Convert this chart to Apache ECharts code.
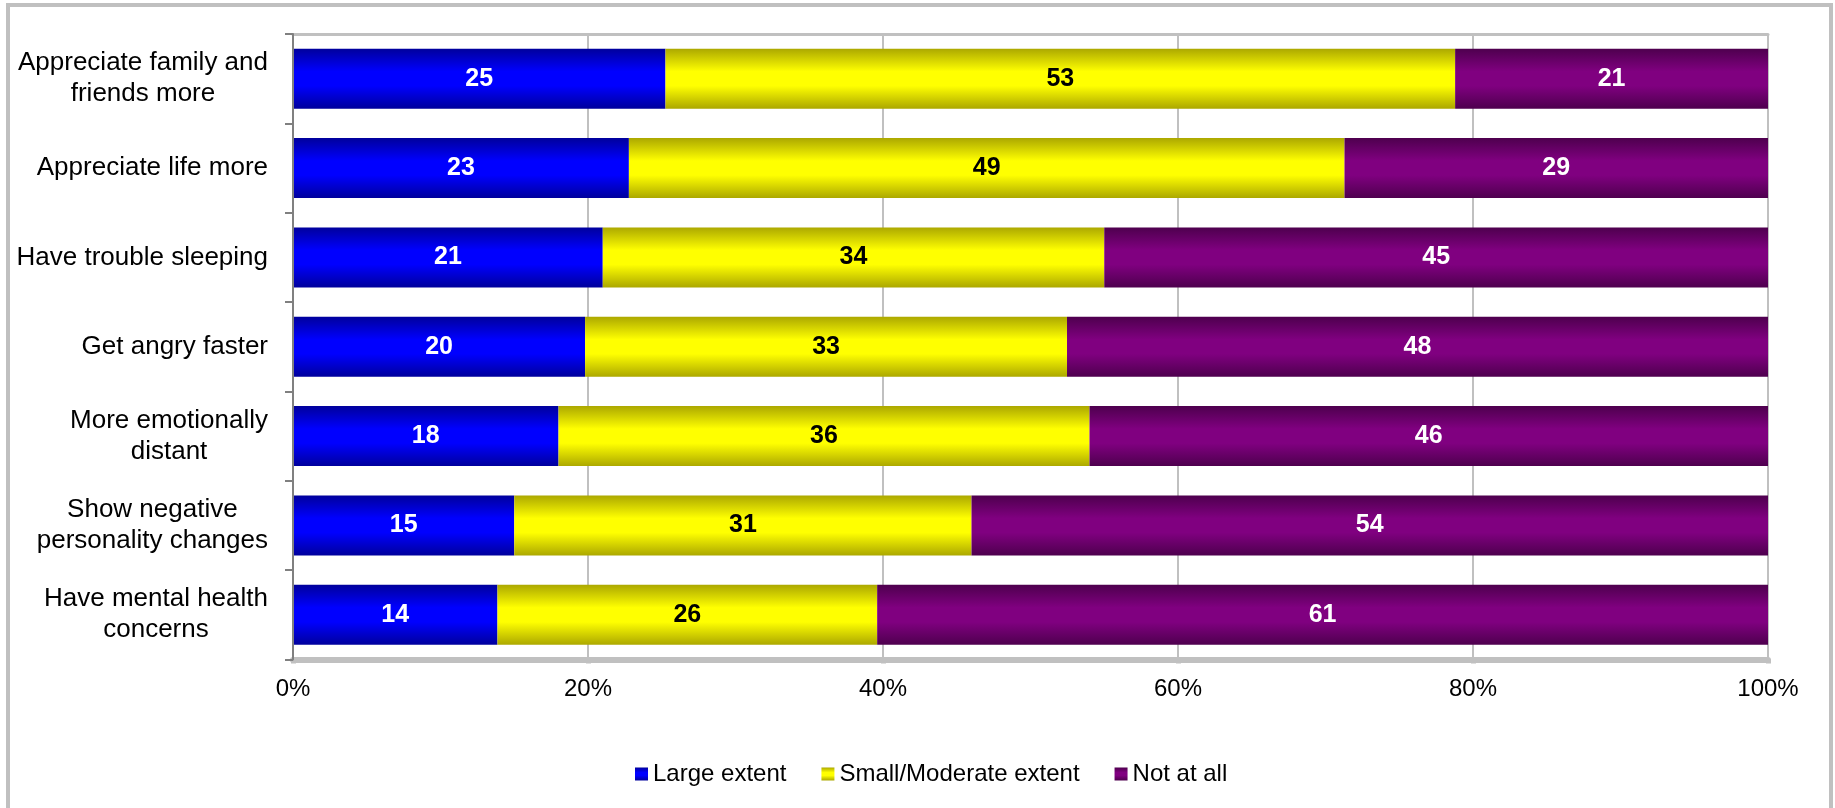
<!DOCTYPE html>
<html>
<head>
<meta charset="utf-8">
<script src="https://cdn.jsdelivr.net/npm/echarts@6/dist/echarts.min.js"></script>
<style>
html,body{margin:0;padding:0;background:#fff;}
#chart{width:1835px;height:808px;}
</style>
</head>
<body>
<div id="chart"></div>
<script>
const categories = [
  "Appreciate family and\nfriends more",
  "Appreciate life more",
  "Have trouble sleeping",
  "Get angry faster",
  "More emotionally\ndistant",
  "Show negative\npersonality changes",
  "Have mental health\nconcerns"
];
const seriesNames = ["Large extent", "Small/Moderate extent", "Not at all"];
const largeExtent = [25, 23, 21, 20, 18, 15, 14];
const smallModerate = [53, 49, 34, 33, 36, 31, 26];
const notAtAll = [21, 29, 45, 48, 46, 54, 61];
const xTicks = [0, 20, 40, 60, 80, 100];

const FONT = "'Liberation Sans', Arial, Helvetica, sans-serif";
const raw = [largeExtent, smallModerate, notAtAll];
const totals = categories.map((_, i) => raw.reduce((s, arr) => s + arr[i], 0));

function grad(dark, bright) {
  return new echarts.graphic.LinearGradient(0, 0, 0, 1, [
    {offset: 0, color: dark},
    {offset: 0.38, color: bright},
    {offset: 0.62, color: bright},
    {offset: 1, color: dark}
  ]);
}
const fills = [grad('#00009c', '#0000ff'), grad('#aca800', '#ffff00'), grad('#4e004e', '#800080')];
const labelColors = ['#ffffff', '#000000', '#ffffff'];

const series = raw.map((arr, s) => ({
  name: seriesNames[s],
  type: 'bar',
  stack: 'total',
  barWidth: 60,
  itemStyle: {color: fills[s]},
  label: {
    show: true,
    position: 'inside',
    color: labelColors[s],
    fontFamily: FONT,
    fontSize: 25,
    fontWeight: 'bold',
    formatter: p => String(p.data.raw)
  },
  emphasis: {disabled: true},
  data: arr.map((v, i) => ({value: v / totals[i] * 100, raw: v}))
}));

const chart = echarts.init(document.getElementById('chart'), null, {renderer: 'canvas'});
chart.setOption({
  animation: false,
  backgroundColor: '#ffffff',
  graphic: [{
    type: 'rect',
    shape: {x: 8, y: 5, width: 1823, height: 830},
    style: {fill: 'none', stroke: '#c0c0c0', lineWidth: 4},
    z: 100
  }],
  grid: {left: 293, right: 67, top: 34, bottom: 148.5, containLabel: false},
  legend: {
    left: 630,
    top: 757,
    icon: 'rect',
    itemWidth: 13,
    itemHeight: 13,
    itemGap: 35,
    selectedMode: false,
    textStyle: {fontFamily: FONT, fontSize: 24, color: '#000'},
    data: seriesNames
  },
  xAxis: [{
    type: 'value',
    min: xTicks[0],
    max: xTicks[xTicks.length - 1],
    interval: xTicks[1] - xTicks[0],
    position: 'bottom',
    axisLine: {show: true, lineStyle: {color: '#c0c0c0', width: 6}},
    axisTick: {show: true, length: 4, lineStyle: {color: '#c0c0c0', width: 5}},
    splitLine: {show: true, lineStyle: {color: '#c0c0c0', width: 2}},
    axisLabel: {fontFamily: FONT, fontSize: 24, color: '#000', margin: 18, formatter: '{value}%'}
  }, {
    type: 'value',
    min: xTicks[0],
    max: xTicks[xTicks.length - 1],
    interval: xTicks[1] - xTicks[0],
    position: 'top',
    axisLine: {show: true, lineStyle: {color: '#c0c0c0', width: 3}},
    axisTick: {show: false},
    axisLabel: {show: false},
    splitLine: {show: false}
  }],
  yAxis: {
    type: 'category',
    inverse: true,
    data: categories,
    axisLine: {show: true, lineStyle: {color: '#808080', width: 2}},
    axisTick: {show: true, length: 8, lineStyle: {color: '#808080', width: 2}},
    axisLabel: {
      margin: 25,
      formatter: v => v.split('\n').map(l => '{c|' + l + '}').join('\n'),
      rich: {c: {align: 'center', fontFamily: FONT, fontSize: 26, color: '#000', lineHeight: 31}}
    },
    z: 5
  },
  series: series
});
</script>
</body>
</html>
